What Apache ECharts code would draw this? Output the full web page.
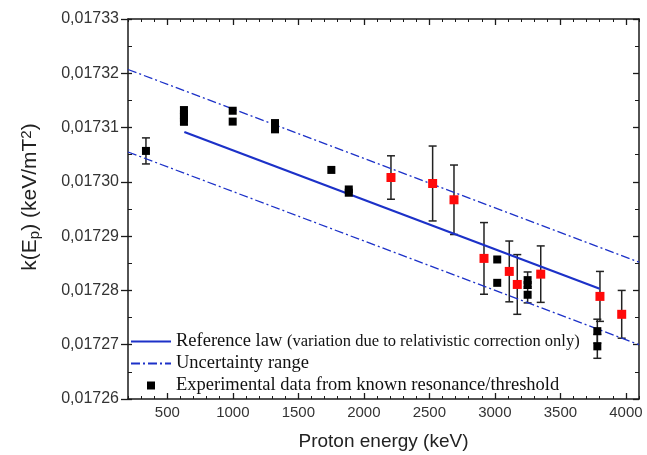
<!DOCTYPE html>
<html>
<head>
<meta charset="utf-8">
<script src="https://cdn.jsdelivr.net/npm/echarts@6/dist/echarts.min.js"></script>
<style>
  html, body { margin: 0; padding: 0; background: #fff; }
  #chart { width: 647px; height: 455px; }
</style>
</head>
<body>
<div id="chart"></div>
<script>
// axis ticks
const xMajorTicks = [500, 1000, 1500, 2000, 2500, 3000, 3500, 4000];

// reference law and uncertainty band (endpoints)
const refLawX = [630, 3800];
const refLawY = [0.0173092, 0.0172803];
const bandX = [200, 4100];
const bandUpperY = [0.0173207, 0.0172852];
const bandLowerY = [0.0173055, 0.0172700];

// experimental points (black)
const blackX = [337, 627, 627, 627, 627, 999, 999, 1322, 1322, 1752, 1885, 1885, 3018, 3018, 3250, 3250, 3250, 3782, 3782];
const blackY = [0.0173057, 0.0173132, 0.0173125, 0.0173118, 0.0173111, 0.0173131, 0.0173111, 0.0173108, 0.0173097,
  0.0173022, 0.0172986, 0.0172980, 0.0172857, 0.0172814, 0.0172819, 0.0172810, 0.0172792, 0.0172725, 0.0172697];
const blackErr = [0.0000024, 0.0000006, 0, 0, 0.0000006, 0, 0, 0.0000006, 0.0000006,
  0, 0, 0, 0, 0, 0.0000015, 0, 0.0000015, 0.0000022, 0.0000022];

// experimental points (red)
const redX = [2207, 2525, 2688, 2917, 3110, 3171, 3350, 3802, 3968];
const redY = [0.0173008, 0.0172997, 0.0172967, 0.0172859, 0.0172835, 0.0172811, 0.0172830, 0.0172789, 0.0172756];
const redErr = [0.0000040, 0.0000069, 0.0000064, 0.0000066, 0.0000056, 0.0000055, 0.0000052, 0.0000046, 0.0000044];

const REF_NAME = "Reference law";
const UNC_NAME = "Uncertainty range";
const EXP_NAME = "Experimental data from known resonance/threshold";

const zip = (xs, ys) => xs.map((x, i) => [x, ys[i]]);
const zip3 = (xs, ys, es) => xs.map((x, i) => [x, ys[i], es[i]]);

const axisColor = "#1a1a1a";
const blue = "#1c31c8";

function errorBar(params, api) {
  const e = api.value(2);
  if (!e) return null;
  const x = api.value(0), y = api.value(1);
  const top = api.coord([x, y + e]);
  const bot = api.coord([x, y - e]);
  const w = 4;
  const style = { stroke: "#222", lineWidth: 1.5 };
  return {
    type: "group",
    children: [
      { type: "line", shape: { x1: top[0], y1: top[1], x2: bot[0], y2: bot[1] }, style },
      { type: "line", shape: { x1: top[0] - w, y1: top[1], x2: top[0] + w, y2: top[1] }, style },
      { type: "line", shape: { x1: bot[0] - w, y1: bot[1], x2: bot[0] + w, y2: bot[1] }, style },
    ],
  };
}

const chart = echarts.init(document.getElementById("chart"), null, { renderer: "canvas" });

const xCommon = { type: "value", min: 200, max: 4100, interval: 100, splitLine: { show: false } };
const yCommon = { type: "value", min: 0.01726, max: 0.01733, interval: 0.00001, splitLine: { show: false } };
const tickLine = { color: axisColor, width: 1.3 };
const minorLine = { color: axisColor, width: 1 };

function xAxisPair(position, withLabels) {
  return [
    {
      ...xCommon,
      position,
      axisLine: { lineStyle: { color: axisColor, width: 1.5 } },
      axisTick: { inside: true, length: 6, customValues: xMajorTicks, lineStyle: tickLine },
      axisLabel: withLabels
        ? {
            customValues: xMajorTicks, fontFamily: "Liberation Sans", fontSize: 15, color: "#333", margin: 6,
            formatter: (v) => String(v),
          }
        : { show: false },
    },
    {
      ...xCommon,
      position,
      axisLine: { show: false },
      axisTick: { inside: true, length: 3, lineStyle: minorLine },
      axisLabel: { show: false },
    },
  ];
}

const xAxes = [...xAxisPair("bottom", true), ...xAxisPair("top", false)];
Object.assign(xAxes[0], {
  name: "Proton energy (keV)",
  nameLocation: "middle",
  nameGap: 33,
  nameTextStyle: { fontFamily: "Liberation Sans", fontSize: 19, color: "#222" },
});

chart.setOption({
  animation: false,
  backgroundColor: "#fff",
  grid: { left: 128, right: 8, top: 19, bottom: 56, outerBoundsMode: "none" },
  xAxis: xAxes,
  yAxis: [
    {
      ...yCommon,
      position: "left",
      name: "{a|k(E}{sub|p}{a|) (keV/mT}{sup|2}{a|)}",
      nameLocation: "middle",
      nameGap: 86,
      nameRotate: 90,
      nameTextStyle: {
        fontFamily: "Liberation Sans", fontSize: 21, color: "#222",
        padding: [0, 0, 0, 24],
        rich: {
          a: { fontFamily: "Liberation Sans", fontSize: 21, color: "#222" },
          sub: { fontFamily: "Liberation Sans", fontSize: 15, color: "#222", verticalAlign: "bottom", padding: [8, 0, 0, 0] },
          sup: { fontFamily: "Liberation Sans", fontSize: 15, color: "#222", verticalAlign: "top", padding: [0, 0, 8, 0] },
        },
      },
      axisLine: { lineStyle: { color: axisColor, width: 1.5 } },
      axisTick: { inside: false, length: 7, lineStyle: tickLine },
      axisLabel: {
        fontFamily: "Liberation Sans", fontSize: 16, color: "#333", margin: 9,
        formatter: (v) => v.toFixed(5).replace(".", ","),
      },
    },
    {
      ...yCommon,
      position: "left",
      axisLine: { show: false },
      axisTick: { inside: true, length: 4, lineStyle: tickLine },
      minorTick: { show: true, splitNumber: 2, length: 4, lineStyle: minorLine },
      axisLabel: { show: false },
    },
    {
      ...yCommon,
      position: "right",
      axisLine: { lineStyle: { color: axisColor, width: 1.5 } },
      axisTick: { inside: true, length: 6, lineStyle: tickLine },
      minorTick: { show: true, splitNumber: 2, length: 4, lineStyle: minorLine },
      axisLabel: { show: false },
    },
  ],
  legend: {
    orient: "vertical",
    left: 125,
    top: 327,
    itemGap: 3,
    itemWidth: 40,
    itemHeight: 8,
    data: [
      { name: REF_NAME, itemStyle: { opacity: 0 } },
      { name: UNC_NAME, itemStyle: { opacity: 0 } },
      { name: EXP_NAME, icon: "path://M0,0L8,0L8,8L0,8Z" },
    ],
    textStyle: {
      fontFamily: "Liberation Serif", fontSize: 18.5, color: "#111",
      rich: {
        b: { fontFamily: "Liberation Serif", fontSize: 18.5, color: "#111" },
        s: { fontFamily: "Liberation Serif", fontSize: 16.5, color: "#111" },
      },
    },
    formatter: (name) =>
      name === REF_NAME ? "{b|Reference law} {s|(variation due to relativistic correction only)}" : name,
  },
  series: [
    {
      name: UNC_NAME, type: "line", data: zip(bandX, bandUpperY), symbol: "none",
      lineStyle: { color: blue, width: 1.3, type: [9, 3, 2, 3] }, itemStyle: { color: blue },
    },
    {
      name: UNC_NAME, type: "line", data: zip(bandX, bandLowerY), symbol: "none",
      lineStyle: { color: blue, width: 1.3, type: [9, 3, 2, 3] }, itemStyle: { color: blue },
    },
    {
      name: REF_NAME, type: "line", data: zip(refLawX, refLawY), symbol: "none",
      lineStyle: { color: blue, width: 2.2 }, itemStyle: { color: blue },
    },
    { name: "errBlack", type: "custom", renderItem: errorBar, data: zip3(blackX, blackY, blackErr), z: 3 },
    { name: "errRed", type: "custom", renderItem: errorBar, data: zip3(redX, redY, redErr), z: 3 },
    {
      name: EXP_NAME, type: "scatter", symbol: "rect", symbolSize: 8,
      data: zip(blackX, blackY), itemStyle: { color: "#000", opacity: 1 }, z: 4,
    },
    {
      name: "red", type: "scatter", symbol: "rect", symbolSize: 9,
      data: zip(redX, redY), itemStyle: { color: "#ff0a0a", opacity: 1 }, z: 4,
    },
  ],
});
</script>
</body>
</html>
